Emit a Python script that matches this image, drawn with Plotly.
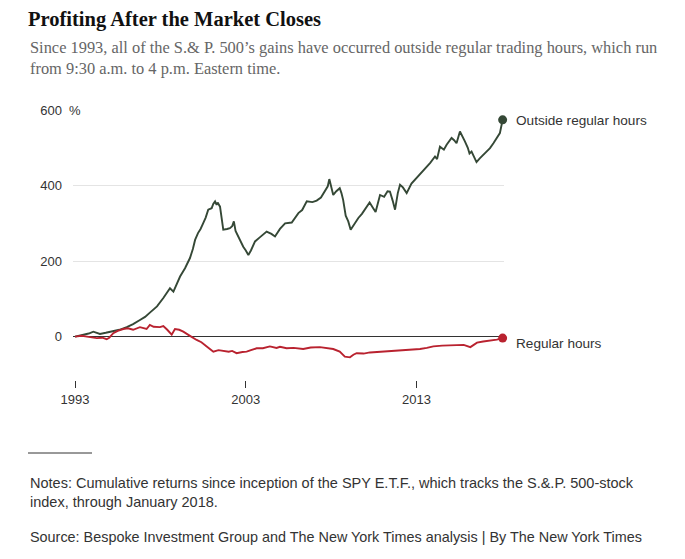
import plotly.graph_objects as go

# cumulative returns (%), decimal years
outside_years = [1993.0, 1993.4, 1993.8, 1994.07, 1994.46, 1994.8, 1995.24, 1995.6, 1996.03, 1996.4,
                 1996.8, 1997.1, 1997.4, 1997.8, 1998.17, 1998.56, 1998.76, 1999.0, 1999.15, 1999.44,
                 1999.73, 1999.9, 2000.03, 2000.2, 2000.35, 2000.5, 2000.65, 2000.8, 2001.0, 2001.1,
                 2001.2, 2001.29, 2001.35, 2001.49, 2001.6, 2001.68, 2001.9, 2002.07, 2002.2, 2002.3,
                 2002.4, 2002.56, 2002.7, 2002.85, 2003.0, 2003.15, 2003.3, 2003.54, 2003.8, 2004.0,
                 2004.22, 2004.5, 2004.71, 2005.0, 2005.3, 2005.69, 2006.08, 2006.3, 2006.57, 2006.9,
                 2007.15, 2007.4, 2007.64, 2007.8, 2007.89, 2008.0, 2008.12, 2008.3, 2008.5, 2008.6,
                 2008.7, 2008.85, 2009.0, 2009.14, 2009.3, 2009.59, 2009.8, 2010.07, 2010.25, 2010.46,
                 2010.6, 2010.86, 2011.1, 2011.3, 2011.44, 2011.6, 2011.74, 2011.9, 2012.03, 2012.2,
                 2012.42, 2012.7, 2013.0, 2013.3, 2013.59, 2013.8, 2014.08, 2014.2, 2014.37, 2014.6,
                 2014.76, 2015.05, 2015.2, 2015.34, 2015.54, 2015.7, 2015.83, 2016.0, 2016.1, 2016.22,
                 2016.4, 2016.51, 2016.7, 2016.9, 2017.1, 2017.3, 2017.5, 2017.69, 2017.88, 2018.04]
outside_vals = [0, 4, 8, 13, 7, 10, 15, 18, 25, 33,
                44, 52, 64, 80, 102, 128, 119, 145, 159, 181,
                208, 232, 256, 274, 285, 300, 315, 336, 340, 352,
                358, 349, 355, 344, 300, 283, 285, 287, 292, 305,
                280, 265, 250, 238, 228, 216, 228, 252, 262, 270,
                278, 272, 265, 285, 300, 302, 327, 335, 358, 356,
                360, 368, 384, 398, 417, 395, 375, 385, 393, 380,
                362, 320, 305, 283, 295, 314, 325, 344, 355, 340,
                330, 375, 370, 385, 384, 360, 336, 380, 402, 395,
                380, 405, 420, 435, 450, 460, 477, 470, 503, 495,
                508, 526, 520, 512, 543, 530, 517, 500, 485, 490,
                470, 462, 472, 481, 490, 499, 512, 526, 539, 574]

regular_years = [1993.0, 1993.4, 1993.7, 1994.0, 1994.27, 1994.6, 1994.85, 1995.0, 1995.24, 1995.5,
                 1995.82, 1996.1, 1996.4, 1996.8, 1997.0, 1997.19, 1997.38, 1997.6, 1997.97, 1998.17,
                 1998.4, 1998.66, 1998.85, 1999.1, 1999.34, 1999.55, 1999.73, 2000.12, 2000.4, 2000.71,
                 2000.9, 2001.1, 2001.4, 2001.68, 2002.0, 2002.2, 2002.46, 2002.8, 2003.05, 2003.3,
                 2003.63, 2004.0, 2004.41, 2004.8, 2005.0, 2005.39, 2005.8, 2006.36, 2006.8, 2007.34,
                 2007.7, 2008.12, 2008.5, 2008.8, 2009.1, 2009.3, 2009.49, 2009.9, 2010.27, 2010.6,
                 2010.86, 2011.2, 2011.64, 2012.0, 2012.42, 2012.8, 2013.2, 2013.6, 2013.98, 2014.5,
                 2015.15, 2015.76, 2016.15, 2016.54, 2016.9, 2017.3, 2017.7, 2018.04]
regular_vals = [0, 2, 0, -2, -4, -3, -7, -3, 9, 15,
                20, 22, 18, 25, 22, 20, 31, 26, 25, 28,
                18, 5, 20, 18, 13, 8, 2, -9, -15, -26,
                -32, -40, -36, -37, -40, -38, -44, -41, -40, -36,
                -31, -31, -26, -30, -27, -31, -30, -33, -29, -28,
                -30, -33, -40, -53, -55, -48, -44, -45, -42, -41,
                -40, -38, -37, -37, -35, -34, -33, -30, -26, -24,
                -22, -22, -28, -16, -13, -11, -8, -4]

x_ticks = [1993, 2003, 2013]
y_ticks = [0, 200, 400, 600]

green = "#354836"
red = "#b9222f"
sans = "Liberation Sans, Arial, sans-serif"
serif = "Liberation Serif, Times New Roman, serif"

fig = go.Figure()
fig.add_trace(go.Scatter(x=outside_years, y=outside_vals, mode="lines",
                         line=dict(color=green, width=1.9), hoverinfo="skip"))
fig.add_trace(go.Scatter(x=regular_years, y=regular_vals, mode="lines",
                         line=dict(color=red, width=1.9), hoverinfo="skip"))
# end dots
fig.add_trace(go.Scatter(x=[outside_years[-1]], y=[outside_vals[-1]], mode="markers",
                         marker=dict(color=green, size=9), cliponaxis=False, hoverinfo="skip"))
fig.add_trace(go.Scatter(x=[regular_years[-1]], y=[regular_vals[-1]], mode="markers",
                         marker=dict(color=red, size=9), cliponaxis=False, hoverinfo="skip"))

# page body has an 8px margin, so everything is pulled up/left by 8
fig.update_layout(
    width=685, height=559,
    margin=dict(l=65, r=189, t=102, b=187),
    paper_bgcolor="white", plot_bgcolor="white",
    showlegend=False,
    font=dict(family=sans, size=13, color="#333"),
    title=dict(text="<b>Profiting After the Market Closes</b>",
               font=dict(family=serif, size=20.5, color="#111"),
               xref="container", x=20 / 685, xanchor="left",
               yref="container", y=1 - 11 / 559, yanchor="middle"),
)
fig.update_xaxes(range=[1992.88, 2018.12], tickvals=x_ticks, ticktext=[str(v) for v in x_ticks],
                 ticks="outside", ticklen=7, tickcolor="#333", tickwidth=1,
                 showgrid=False, showline=False, zeroline=False,
                 tickfont=dict(size=13, color="#333"))
fig.update_yaxes(range=[-115, 600], tickvals=y_ticks, ticktext=[str(v) for v in y_ticks],
                 showgrid=True, gridcolor="#e4e4e4", gridwidth=1,
                 zeroline=True, zerolinecolor="#333", zerolinewidth=1,
                 showline=False, ticks="", ticklabelstandoff=10,
                 tickfont=dict(size=13, color="#333"))

annos = [
    dict(text="Since 1993, all of the S.& P. 500’s gains have occurred outside regular trading hours, which run"
              "<br>from 9:30 a.m. to 4 p.m. Eastern time.",
         xref="paper", yref="paper", x=-0.1044, y=(380 - 36) / 270, xanchor="left", yanchor="top",
         align="left", showarrow=False, font=dict(family=serif, size=16.4, color="#666")),
    dict(text="%", xref="paper", yref="y", x=0, y=600, xanchor="left", yanchor="middle",
         xshift=-8, showarrow=False, bgcolor="white", borderpad=3,
         font=dict(size=13, color="#333")),
    dict(text="Outside regular hours", xref="x", yref="y", x=outside_years[-1], y=outside_vals[-1],
         xanchor="left", yanchor="middle", xshift=11, yshift=-1, showarrow=False,
         font=dict(size=13.6, color="#333")),
    dict(text="Regular hours", xref="x", yref="y", x=regular_years[-1], y=regular_vals[-1],
         xanchor="left", yanchor="middle", xshift=11, yshift=-5, showarrow=False,
         font=dict(size=13.6, color="#333")),
    dict(text="Notes: Cumulative returns since inception of the SPY E.T.F., which tracks the S.&.P. 500-stock"
              "<br>index, through January 2018.",
         xref="paper", yref="paper", x=-0.1044, y=(380 - 473) / 270, xanchor="left", yanchor="top",
         align="left", showarrow=False, font=dict(size=14.5, color="#333")),
    dict(text="Source: Bespoke Investment Group and The New York Times analysis | By The New York Times",
         xref="paper", yref="paper", x=-0.1044, y=(380 - 537) / 270, xanchor="left", yanchor="middle",
         align="left", showarrow=False, font=dict(size=14.4, color="#333")),
]
fig.update_layout(annotations=annos)

# short rule above the notes
fig.add_shape(type="line", xref="paper", yref="paper", x0=-0.1044, x1=(92 - 73) / 431,
              y0=(380 - 453) / 270, y1=(380 - 453) / 270, line=dict(color="#333", width=1))

fig.write_html("out.html")
